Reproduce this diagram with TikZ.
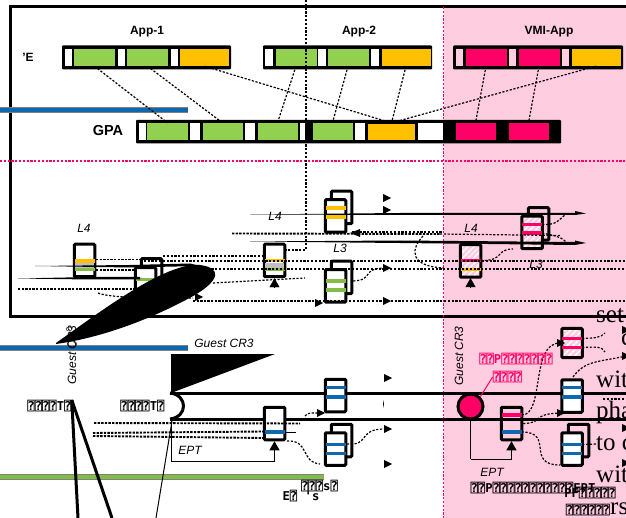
\documentclass[tikz,border=0pt]{standalone}
\usepackage{fontspec}
\setmainfont{Liberation Sans}
\newfontfamily\tofufont[BoldFont={DejaVu Sans Mono Bold}]{DejaVu Sans Mono}
\newfontfamily\bigfont{Liberation Serif}
\usetikzlibrary{arrows.meta,patterns.meta}
\definecolor{appgreen}{HTML}{92D050}
\definecolor{apporange}{HTML}{FFC000}
\definecolor{vmired}{HTML}{FF0066}
\definecolor{vmipink}{HTML}{FFCCE0}
\definecolor{bandblue}{HTML}{0F67AD}
\definecolor{bandgreen}{HTML}{83BD46}
\begin{document}
\begin{tikzpicture}[x=1pt,y=-1pt,
  cell/.style={minimum height=17pt,minimum width=#1,inner sep=0pt},
  strip/.style={fill=black,rounded corners=1pt},
  pagebox/.style={draw,line width=3pt,rounded corners=1pt,minimum width=20.5pt,minimum height=32.5pt,inner sep=0pt},
  hatched/.style={pagebox,preaction={fill=vmipink},pattern={Lines[angle=45,distance=4pt,line width=1.6pt]},pattern color=white},
  band/.style={minimum width=20pt,minimum height=3.8pt,inner sep=0pt},
  dots/.style={dashed,dash pattern=on 2.2pt off 1.6pt,line width=1.2pt},
  fatdots/.style={dashed,dash pattern=on 2.4pt off 1.2pt,line width=1.9pt},
  bold12/.style={font=\fontsize{12}{14}\selectfont\bfseries},
  ital12/.style={font=\fontsize{12}{14}\selectfont\itshape},
  tofu/.style={font=\fontsize{12.2}{13}\selectfont\tofufont\bfseries,inner sep=0pt},
  big/.style={font=\fontsize{25}{30}\selectfont\bigfont,anchor=base west,inner sep=0pt},
  uptip/.style={-{Triangle[length=9pt,width=10pt]}}]

\clip (0,0) rectangle (626,518);
\fill[white] (0,0) rectangle (626,518);
\fill[vmipink] (443.5,7) rectangle (626,518);

\draw[line width=3pt] (626,7) -- (10,7) -- (10,317) -- (626,317);

\draw[vmired,dots] (443.5,7) -- (443.5,518);
\draw[vmired,dots] (0,161) -- (626,161);

% bars
\foreach \y/\c/\x in {110/bandblue/188,348/bandblue/188,477/bandgreen/324}
  {\fill[gray] (0,\y-3) rectangle (\x,\y+3);
   \fill[\c] (0,\y-2) rectangle (\x,\y+2);}

% top rows
\fill[strip] (62,45.5) rectangle (231,69.5);
\fill[strip] (263,45.5) rectangle (432,69.5);
\fill[strip] (453,45.5) rectangle (623,69.5);
\fill[strip] (136,120) rectangle (561,143.5);

\foreach \n/\x/\w/\c in {a0/68.5/7/white,e1/94.5/41/appgreen,a1/121.5/7/white,e2/147.5/41/appgreen,a2/174.5/7/white,e3/204.5/49/apporange,
  b0/269/8/white,f0/296/41/appgreen,b1/322/8/white,f1/348/41/appgreen,b2/375/8/white,f2/406/49/apporange,
  c0/459.5/7/vmipink,v1/486/41/vmired,c1/512/7/vmipink,v2/539/41/vmired,c2/565/7/vmipink,v3/596/49/apporange}
  {\node[cell=\w pt,fill=\c] (\n) at (\x,57.5) {};}

\foreach \n/\x/\w/\c in {g0/142/7/white,g1/167.5/41/appgreen,d1/195/10/white,g2/222.5/40/appgreen,d2/250/10/white,g3/277.5/40/appgreen,d3/302.5/5/white,
  g4/332.5/40/appgreen,d4/360/10/white,d5/430.5/25/white,g6/475.5/40/vmired,g7/528.5/40/vmired}
  {\node[cell=\w pt,fill=\c] (\n) at (\x,131.5) {};}
\node[cell=49pt,fill=apporange,draw,line width=1.2pt] (g5) at (391.5,132) {};

\node[bold12] (labapp1) at (147,32) {App-1};
\node[bold12] (labapp2) at (359,32) {App-2};
\node[bold12] (labvmi) at (549,32) {VMI-App};
\node[bold12] (labe) at (28,57) {'E};
\node[font=\fontsize{14.5}{16}\selectfont\bfseries] (labgpa) at (108,131) {GPA};

\foreach \a/\b in {e1/g1,e2/g2,e3/g5,f0/g3,f1/g4,f2/g5,v1/g6,v2/g7,v3/g5}
  {\draw[dots] (\a.south) -- (\b.north);}

\draw[dots] (306,0) -- (306,250) -- (286,250);

% middle boxes
\node[pagebox,fill=white] (ml4) at (84.5,260.5) {};
\node[pagebox] (ml3b) at (151.5,275) {};
\node[pagebox,fill=white] (ml3) at (145.5,284) {};
\node[pagebox,fill=white] (cl4) at (274.5,260.5) {};
\node[pagebox] (tl3b) at (341.5,207.5) {};
\node[pagebox,fill=white] (tl3) at (335.5,216) {};
\node[pagebox] (bl3b) at (341.5,277.5) {};
\node[pagebox,fill=white] (bl3) at (335.5,286) {};
\node[hatched] (vl4) at (470.5,261) {};
\node[pagebox] (gl3b) at (538.5,224) {};
\node[hatched] (gl3) at (532,232.5) {};

\fill[black!25] (75,263) rectangle (94,268);
\fill[black!25] (265,263) rectangle (284,268);

\foreach \y/\c/\n in {260.7/apporange/mb1,269.5/bandgreen/mb2}
  {\node[band,fill=\c] (\n) at (84.5,\y) {};}
\node[band,fill=bandgreen] (mb3) at (145.5,279.5) {};
\foreach \y/\c/\n in {260.5/apporange/cb1,269.5/bandgreen/cb2}
  {\node[band,fill=\c] (\n) at (274.5,\y) {};}
\foreach \y/\n in {208/tb1,217/tb2}
  {\node[band,fill=apporange] (\n) at (335.5,\y) {};}
\foreach \y/\n in {281/bb1,290/bb2}
  {\node[band,fill=bandgreen] (\n) at (335.5,\y) {};}
\node[band,fill=vmired] (vb1) at (470.5,260.5) {};
\node[band,fill=apporange] (vb2) at (470.5,269.5) {};
\foreach \y/\n in {224.5/gb1,233/gb2}
  {\node[band,fill=vmired] (\n) at (532,\y) {};}

\node[ital12] (ll4a) at (84,228) {L4};
\node[ital12] (ll4b) at (275,216) {L4};
\node[ital12] (ll3a) at (340,248) {L3};
\node[ital12] (ll4c) at (471,228) {L4};
\node[ital12] (ll3b) at (536,264) {L3};

% long lines
\fill (250,214.5) -- (400,213) -- (575,213) -- (575,211) -- (586,213.5) -- (575,215) -- (400,215) -- cycle;
\fill (250,241.5) -- (400,240.5) -- (575,242) -- (575,240.5) -- (586,243) -- (575,245) -- (400,243) -- cycle;
\fill (35,266) -- (130,265) -- (190,263.5) -- (200,266) -- (130,267.5) -- cycle;
\fill (18,278.5) -- (90,277) -- (140,277) -- (140,279.5) -- (90,279.5) -- cycle;

\draw[fatdots] (232,233.5) -- (440,234);
\draw[dots] (440,234) -- (560,235.5);
\draw[dots] (352,232) -- (443,232);
\draw[fatdots] (96,259.5) -- (140,259.5);
\draw[fatdots] (96,270) -- (134,270);
\draw[dots] (163,256) -- (263,256);
\draw[dots] (140,261) -- (626,261);
\draw[dots] (200,269) -- (626,269);
\draw[dots] (213,283) -- (305,278);
\draw[fatdots] (18,289) -- (135,289);
\draw[dots] (98,293) .. controls (110,298) and (150,298) .. (193,298);
\draw[fatdots] (193,301) -- (330,301);
\draw[dots] (330,301) -- (626,301);
\draw[dots] (423,236) .. controls (410,250) and (410,266) .. (443,268);
\draw[dots] (bl3b.east |- bb1) .. controls (375,280) and (360,268) .. (386,268);
\draw[dots] (vb1.east) .. controls (505,261) and (495,249) .. (513,249);
\draw[dots] (gb1.east) .. controls (558,225) and (558,220) .. (565,215);
\draw[dots] (gb2.east) .. controls (555,236) and (560,236) .. (566,242);

\foreach \x/\y in {383/198,383/210,383/268,383/301,315/303,195/297}
  {\fill (\x,\y-4) -- (\x+8,\y) -- (\x,\y+4) -- cycle;}
\fill (360,229) -- (350,233) -- (360,237) -- cycle;

\draw[uptip] (274.5,288) -- (cl4.south);
\draw[uptip] (470.5,288) -- (vl4.south);

% the blot
\fill (56,343) .. controls (100,312) and (165,262) .. (200,265) .. controls (222,268) and (220,280) .. (195,295) .. controls (150,320) and (100,338) .. (56,344) -- cycle;
\draw (69,329) ellipse (3 and 2);
\draw (72,344) ellipse (5 and 3);

% lower part
\fill (171,354) -- (275,354) -- (171,393) -- cycle;
\draw[line width=3pt] (170,393) .. controls (188,395) and (188,417) .. (170,419);
\draw[line width=3pt] (170,393.5) -- (626,393.5);
\draw[line width=3pt] (170,419) -- (626,419);

\node[pagebox,fill=white] (hl) at (274.5,423.5) {};
\node[band,fill=bandblue] (hb) at (274.5,432) {};
\node[pagebox,fill=white] (il3) at (335.5,395.5) {};
\foreach \y/\n in {387.5/ib1,397/ib2}
  {\node[band,fill=bandblue] (\n) at (335.5,\y) {};}
\node[pagebox] (jl3b) at (341.5,440.5) {};
\node[pagebox,fill=white] (jl3) at (335.5,449) {};
\foreach \y/\n in {444.5/jb1,453.5/jb2}
  {\node[band,fill=bandblue] (\n) at (335.5,\y) {};}

\node[pagebox] (pb) at (511.5,423.5) {};
\node[band,fill=vmired] (pb1) at (511.5,415) {};
\node[band,fill=bandblue] (pb2) at (511.5,432) {};
\node[hatched,minimum height=29pt] (hj) at (572,343) {};
\foreach \y/\n in {338.5/hb1,347.5/hb2}
  {\node[band,fill=vmired] (\n) at (572,\y) {};}
\node[pagebox,fill=white] (kl) at (572,396) {};
\foreach \y/\n in {387.5/kb1,397/kb2}
  {\node[band,fill=bandblue] (\n) at (572,\y) {};}
\node[pagebox] (lb) at (578.5,440.5) {};
\node[pagebox,fill=white] (ll) at (572,449) {};
\foreach \y/\n in {444.5/lb1,453.5/lb2}
  {\node[band,fill=bandblue] (\n) at (572,\y) {};}

\node[circle,draw,fill=vmired,line width=3pt,minimum size=25pt,inner sep=0pt] (vmic) at (470.5,406.5) {};

\node[ital12,rotate=90] (crl) at (72,355) {Guest CR3};
\node[ital12] (crm) at (224,343) {Guest CR3};
\node[ital12,rotate=90] (crr) at (459,356) {Guest CR3};
\node[ital12] (eptl) at (190,450) {EPT};
\node[ital12] (eptr) at (492,472) {EPT};

\draw[fatdots] (94,423) -- (300,423.5);
\draw[fatdots] (93,433) -- (263,431.5);
\draw[fatdots] (93,436) -- (263,438);
\draw[line width=1pt] (286,432) -- (296,432);
\draw[dots] (287,441) .. controls (310,440) and (300,462) .. (320,464);
\draw[dots] (305,416) .. controls (308,412) and (312,413) .. (320,413);
\draw[dots] (347,444) .. controls (370,446) and (358,429) .. (384,429);
\draw[dots] (pb1.east) .. controls (545,415) and (530,343) .. (560,343);
\draw[dots] (pb.east) .. controls (545,423) and (530,414) .. (560,413);
\draw[dots] (pb2.east) .. controls (555,432) and (525,465) .. (560,465);
\draw[dots] (hb1.east) .. controls (595,338) and (600,338) .. (605,333);
\draw[dots] (hb2.east) .. controls (595,347) and (602,346) .. (605,352);
\draw[dots] (573,377) .. controls (585,360) and (600,362) .. (626,356);
\draw[dots] (lb1.east) -- (597,444);
\draw[dots] (603,399) -- (626,399);

\foreach \x/\y in {384/378,384/464,384/429,317/413,557/343,557/413,622/330,622/356,622/428,622/463}
  {\fill (\x,\y-4) -- (\x+8,\y) -- (\x,\y+4) -- cycle;}
\fill (383,400) -- (384,404) -- (383,408) -- cycle;

\coordinate (bendr) at (470.5,459);
\coordinate (bendl) at (171,461);
\draw[line width=1pt] (vmic.south) -- (bendr);
\draw[uptip,line width=1pt] (bendr) -| (pb.south);
\draw[line width=1pt] (171,419) -- (bendl);
\draw[uptip,line width=1pt] (bendl) -| (hl.south);

% labels
\node[tofu] (t1) at (49.5,406) {⍰⍰⍰⍰T⍰};
\node[tofu] (t2) at (142.5,406) {⍰⍰⍰⍰T⍰};
\coordinate (lineend1) at (78,518);
\coordinate (lineend2) at (112,518);
\coordinate (lineend3) at (156,518);
\coordinate (t3start) at (172,421);
\draw[line width=3pt] (t1.north east) -- (lineend1);
\draw[line width=3pt] (t1.north east) -- (lineend2);
\draw[line width=1pt] (t3start) -- (lineend3);

\node[tofu,text=vmired] (pk1) at (516,359) {⍰⍰P⍰⍰⍰⍰⍰⍰⍰};
\node[tofu,text=vmired] (pk2) at (507.5,377) {⍰⍰⍰⍰};
\draw[vmired,line width=1pt] (vmic.north east) -- (pk2.west);

\node[tofu] (n1) at (319.5,486) {⍰⍰⍰s⍰};
\node[tofu] (n2) at (301,496) {E⍰ 's};
\node[tofu] (n3) at (533,488) {⍰⍰P⍰⍰⍰⍰⍰⍰⍰⍰⍰⍰⍰EPT};
\node[tofu] (n4) at (590,493) {PF⍰⍰⍰⍰⍰};
\node[tofu] (n5) at (588,510) {⍰⍰⍰⍰⍰⍰};

\node[big] (w1) at (596,323) {set};
\node[big] (w2) at (621,345) {c};
\node[big] (w3) at (596,387) {wit};
\node[big] (w4) at (596,418) {pha};
\node[big] (w5) at (596,450) {to c};
\node[big] (w6) at (596,482) {wit};
\node[big] (w7) at (610,514) {rs};
\end{tikzpicture}
\end{document}
